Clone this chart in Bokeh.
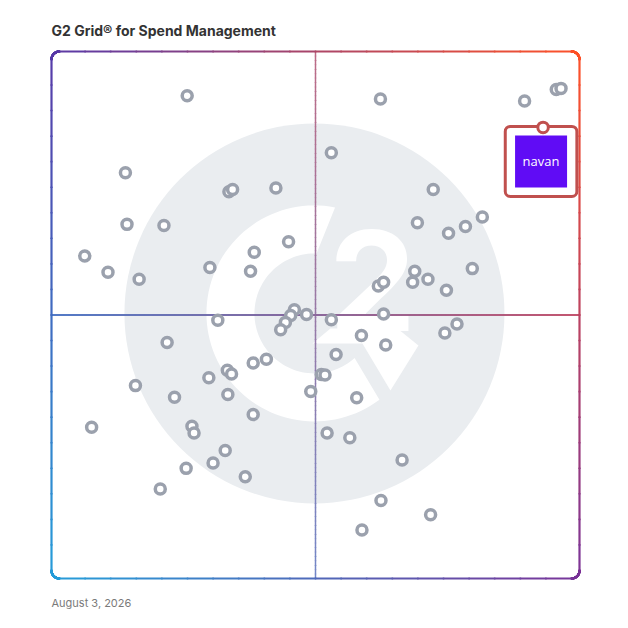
import numpy as np
from bokeh.plotting import figure
from bokeh.models import Range1d, Title
from bokeh.embed import file_html
from bokeh.resources import INLINE
from bokeh.core.properties import value

# ---------------- data ----------------
title_text = "G2 Grid® for Spend Management"
date_text = "August 3, 2026"
leader_name = "navan"

# satisfaction (x) / market presence (y), 0..100 grid units
vendor_x = [25.7, 14.0, 33.6, 34.3, 42.5, 14.3, 21.3, 6.3, 10.7, 16.6,
            30.0, 38.4, 37.7, 44.9, 46.0, 45.3, 48.3, 44.3, 43.4, 31.5,
            62.3, 89.6, 95.6, 96.5, 53.0, 72.3, 69.3, 75.2, 78.4, 81.6,
            68.8, 68.4, 71.3, 79.7, 74.8, 61.9, 62.9, 62.9, 53.0, 21.9,
            15.9, 23.3, 29.8, 33.3, 34.1, 38.2, 40.7, 33.4, 38.2, 49.1,
            51.1, 51.8, 7.6, 26.6, 27.0, 32.9, 30.6, 25.5, 36.7, 20.6,
            58.7, 63.3, 53.9, 74.5, 76.8, 57.8, 52.2, 56.5, 66.4, 62.4,
            71.8, 58.8]
vendor_y = [91.6, 77.0, 73.4, 73.8, 74.1, 67.2, 67.0, 61.2, 58.1, 56.8,
            59.0, 61.9, 58.3, 63.9, 51.0, 49.9, 50.1, 48.6, 47.2, 49.0,
            91.0, 90.6, 92.8, 93.0, 80.8, 73.8, 67.5, 65.5, 66.8, 68.6,
            58.3, 56.2, 56.8, 58.8, 54.7, 55.5, 56.2, 50.2, 49.1, 44.8,
            36.6, 34.4, 38.1, 39.5, 38.8, 40.9, 41.6, 34.9, 31.1, 35.5,
            38.7, 38.6, 28.7, 28.9, 27.6, 24.3, 21.9, 20.9, 19.3, 17.0,
            46.1, 44.3, 42.5, 46.6, 48.3, 34.3, 27.6, 26.7, 22.5, 14.8,
            12.1, 9.2]
navan_x = [93.1]
navan_y = [85.6]

grid_min, grid_mid, grid_max = 0.0, 50.0, 100.0

# ---------------- geometry / style ----------------
PX_X = 5.28   # screen px per grid unit (x)
PX_Y = 5.27   # screen px per grid unit (y)
PAD = 6       # px of room around the grid box

def hx(px):
    return px / PX_X

def hy(px):
    return px / PX_Y

x0, x1 = grid_min - hx(PAD), grid_max + hx(PAD)
y0, y1 = grid_min - hy(PAD), grid_max + hy(PAD)

p = figure(width=620, height=620, x_range=Range1d(x0, x1), y_range=Range1d(y0, y1),
           toolbar_location=None, output_backend="svg",
           min_border_left=45, min_border_right=35, min_border_top=45, min_border_bottom=36)
p.axis.visible = False
p.grid.visible = False
p.outline_line_color = None
p.background_fill_color = "white"
p.border_fill_color = "white"

p.title.text = title_text
p.title.align = "left"
p.title.offset = 6
p.title.standoff = 14
p.title.text_font = "Inter"
p.title.text_font_size = "14px"
p.title.text_font_style = "bold"
p.title.text_color = "#333333"

p.add_layout(Title(text=date_text, align="left", offset=6, standoff=18, text_font="Inter",
                   text_font_size="11px", text_font_style="normal",
                   text_color="#7a7a7a"), "below")

# ---------------- watermark (G2 logo) ----------------
wm_cx, wm_cy = 49.8, 50.3
wm_gray = "#eaedf0"
p.circle(x=[wm_cx], y=[wm_cy], radius=hx(190), fill_color=wm_gray, line_color=None)

def ring_pts(r_px, a0, a1, n=80):
    a = np.radians(np.linspace(a0, a1, n))
    return list(wm_cx + hx(r_px) * np.cos(a)), list(wm_cy + hy(r_px) * np.sin(a))

ox, oy = ring_pts(108, 79, 307)
ix, iy = ring_pts(60, 312, 88)
p.patch(ox + ix, oy + iy, fill_color="white", line_color=None)

# chevron (offsets in px from the logo centre, y downward)
chev = [(16, -15), (83, -15), (104, -32), (76, -77), (48, -30), (-2, -30)]
p.patch([wm_cx + hx(a) for a, b in chev], [wm_cy + hy(b) for a, b in chev],
        fill_color="white", line_color=None)
p.text(x=[wm_cx + hx(58)], y=[wm_cy + hy(32)], text=["2"], text_align="center",
       text_baseline="alphabetic", text_color="white", text_font=value("Inter"),
       text_font_style="bold", text_font_size="138px")

# ---------------- gradient colours ----------------
TL = np.array([88, 58, 168])
TR = np.array([255, 82, 40])
BL = np.array([38, 158, 218])
BR = np.array([122, 52, 152])

def grad(u, v, alpha=1.0):
    c = TL * (1 - u) * v + TR * u * v + BL * (1 - u) * (1 - v) + BR * u * (1 - v)
    c = c * alpha + 255 * (1 - alpha)
    return "#%02x%02x%02x" % tuple(int(round(t)) for t in c)

def seg_line(xs, ys, width, alpha=1.0):
    xs = np.asarray(xs); ys = np.asarray(ys)
    mx = (xs[:-1] + xs[1:]) / 2; my = (ys[:-1] + ys[1:]) / 2
    cols = [grad((a - grid_min) / (grid_max - grid_min), (b - grid_min) / (grid_max - grid_min), alpha)
            for a, b in zip(mx, my)]
    p.segment(x0=xs[:-1], y0=ys[:-1], x1=xs[1:], y1=ys[1:], line_color=cols,
              line_width=width, line_cap="round")

# quadrant lines
n = 120
seg_line(np.full(n, grid_mid), np.linspace(grid_min, grid_max, n), 1.5, 0.8)
seg_line(np.linspace(grid_min, grid_max, n), np.full(n, grid_mid), 2, 0.9)

# rounded outer border
r = 8
def rounded_path():
    xs, ys = [], []
    rx, ry = hx(r), hy(r)
    corners = [(grid_max - rx, grid_max - ry, 90, 0),
               (grid_max - rx, grid_min + ry, 0, -90),
               (grid_min + rx, grid_min + ry, -90, -180),
               (grid_min + rx, grid_max - ry, 180, 90)]
    for cx, cy, a0, a1 in corners:
        a = np.radians(np.linspace(a0, a1, 12))
        xs += list(cx + rx * np.cos(a)); ys += list(cy + ry * np.sin(a))
    xs.append(xs[0]); ys.append(ys[0])
    X, Y = [], []
    for i in range(len(xs) - 1):
        t = np.linspace(0, 1, 20, endpoint=False)
        X += list(xs[i] + (xs[i + 1] - xs[i]) * t)
        Y += list(ys[i] + (ys[i + 1] - ys[i]) * t)
    X.append(xs[-1]); Y.append(ys[-1])
    return X, Y

bx, by = rounded_path()
seg_line(bx, by, 2.2)

# ---------------- vendors ----------------
p.scatter(vendor_x, vendor_y, size=10, line_width=3.5, line_color="#9ba1ad", fill_color="white")

# ---------------- leader (Navan) ----------------
red = "#c0504e"
cxn = navan_x[0] - hx(2)
cyn = navan_y[0] - hy(34)
box_kw = dict(left=[cxn - hx(35.8)], right=[cxn + hx(35.8)],
              top=[cyn + hy(35)], bottom=[cyn - hy(35)],
              fill_color="white", line_color=red, line_width=3)
try:
    p.quad(border_radius=5, **box_kw)
except Exception:
    p.quad(**box_kw)
p.quad(left=[cxn - hx(26)], right=[cxn + hx(26)], top=[cyn + hy(26)], bottom=[cyn - hy(26)],
       fill_color="#600cf5", line_color=None)
p.text(x=[cxn], y=[cyn], text=[leader_name], text_align="center", text_baseline="middle",
       text_color="white", text_font=value("Open Sans"), text_font_size="13px")
p.scatter(navan_x, navan_y, size=10.5, line_width=3, line_color=red, fill_color="white")

open("out.html", "w").write(file_html(p, INLINE))
